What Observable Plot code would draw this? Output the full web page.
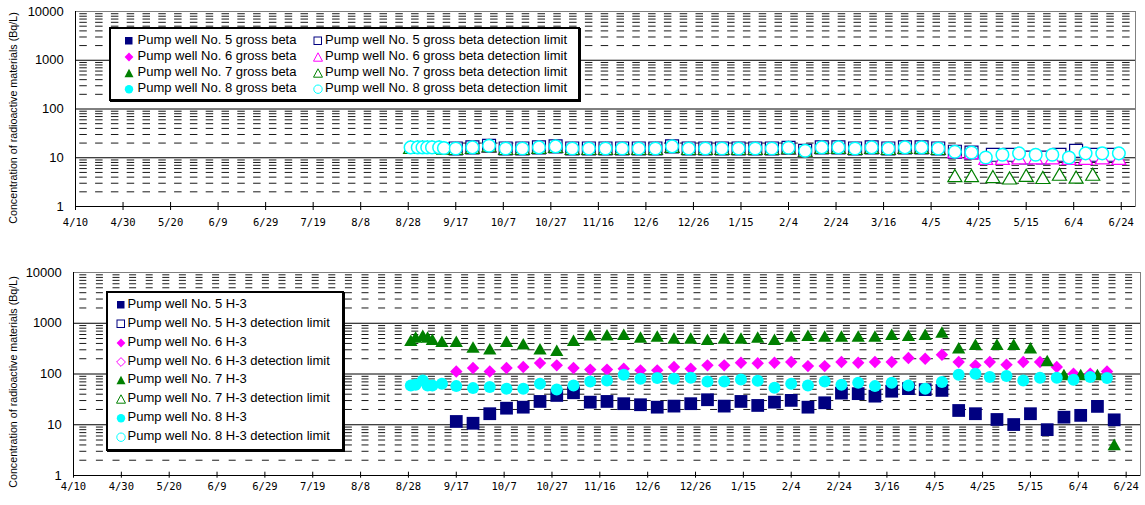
<!DOCTYPE html>
<html><head><meta charset="utf-8">
<script src="https://cdn.jsdelivr.net/npm/d3@7"></script>
<script src="https://cdn.jsdelivr.net/npm/@observablehq/plot@0.6"></script>
<style>
body{margin:0;background:#fff;}
#wrap{position:relative;width:1145px;height:505px;overflow:hidden;font-family:"Liberation Sans",Arial,sans-serif;color:#000;}
.panel{position:absolute;left:0;}
.ylab{position:absolute;font-size:10.7px;white-space:nowrap;transform:translate(-50%,-50%) rotate(-90deg);}
.legend{position:absolute;border:2px solid #000;box-shadow:1px 1px 0 #000;background:#fff;box-sizing:border-box;}
.ltext{position:absolute;font-size:13px;line-height:16px;height:16px;white-space:nowrap;}
.lsym{position:absolute;}
</style></head>
<body><div id="wrap"></div>
<script>
// ---------- data ----------
const clusterTop = ["2012-08-29","2012-09-01","2012-09-03","2012-09-05","2012-09-07","2012-09-10","2012-09-12"];
const clusterBottom = ["2012-08-29","2012-08-31","2012-09-03","2012-09-05","2012-09-07","2012-09-11"];
const weekly = ["2012-09-17","2012-09-24","2012-10-01","2012-10-08","2012-10-15","2012-10-22","2012-10-29","2012-11-05","2012-11-12","2012-11-19","2012-11-26","2012-12-03","2012-12-10","2012-12-17","2012-12-24","2012-12-31","2013-01-07","2013-01-14","2013-01-21","2013-01-28","2013-02-04","2013-02-11","2013-02-18","2013-02-25","2013-03-04","2013-03-11","2013-03-18","2013-03-25","2013-04-01","2013-04-08","2013-04-15","2013-04-22"];
const laterA = ["2013-05-01","2013-05-08","2013-05-15","2013-05-22","2013-05-29","2013-06-05","2013-06-12","2013-06-19"];
const laterB = ["2013-04-28","2013-05-05","2013-05-12","2013-05-19","2013-05-26","2013-06-02","2013-06-09","2013-06-16","2013-06-23"];

// gross beta (all results were below detection limit: only detection limits plotted)
const beta5 = [], beta6 = [], beta7 = [], beta8 = [];
const beta5DLDates = [...weekly, ...laterA];
const beta5DL = [15.5,16.3,17.6,15.5,15.5,16.3,17.1,15.5,15.5,15.5,15.5,15.5,15.5,17.1,15.5,15.5,15.5,15.5,15.5,15.5,16.0,13.9,16.3,16.3,15.5,16.3,15.5,16.3,16.3,15.5,13.3,12.8,
  11.5,11.5,10.1,10.1,11.5,13.9,11.5,11.5];
const beta6DLDates = [...weekly, ...laterB];
const beta6DL = [15.5,16.3,17.6,15.5,15.5,16.3,17.1,15.5,15.5,15.5,15.5,15.5,15.5,17.1,15.5,15.5,15.5,15.5,15.5,15.5,16.0,13.9,16.3,16.3,15.5,16.3,15.5,16.3,16.3,15.5,13.3,12.8,
  9.7,9.7,10,10,10,9.7,9.7,10,9.7];
const beta7DLDates = [...clusterTop, ...weekly, ...laterA.slice(0,7)];
const beta7DL = [16.3,16.3,16.3,16.3,16.3,16.3,15.8,
  15.5,16.3,17.6,15.5,15.5,16.3,17.1,15.5,15.5,15.5,15.5,15.5,15.5,17.1,15.5,15.5,15.5,15.5,15.5,15.5,16.0,13.9,16.3,16.3,15.5,16.3,15.5,16.3,16.3,15.5,4.3,4.3,
  4.1,3.85,4.37,3.94,4.6,4.0,4.6];
const beta8DLDates = [...clusterTop, ...weekly, ...laterB];
const beta8DL = [16.3,16.3,16.3,16.3,16.3,16.3,15.8,
  15.5,16.3,17.6,15.5,15.5,16.3,17.1,15.5,15.5,15.5,15.5,15.5,15.5,17.1,15.5,15.5,15.5,15.5,15.5,15.5,16.0,13.9,16.3,16.3,15.5,16.3,15.5,16.3,16.3,15.5,13.3,12.8,
  10.1,11.5,12.3,11.5,11.5,10.1,12.3,12.3,12.3];

// H-3 (all results above detection limit)
const h5Dates = [...weekly, ...laterA];
const h5 = [11.6,10.7,16.5,21.2,22.2,28.8,37.8,42.7,27.9,28.8,26,24.8,22.2,23.3,26,31.1,23.3,28.8,24,27.9,30.2,22.2,27.1,42,41,36.6,45.8,51.5,49.2,47.5,19.1,16.5,
  12.7,10.1,16.5,8.0,14.1,15.3,23,12.5];
const h6Dates = [...weekly, ...laterB.slice(0,8)];
const h6 = [112,131,112,131,137,164,148,131,122,122,127,118,118,137,127,148,148,167,163,167,172,143,143,172,167,172,172,206,200,240,172,148,
  172,153,172,172,137,101,101,112];
const h7Dates = [...clusterBottom, ...weekly, ...laterA];
const h7 = [460,534,577,534,481,440,
  440,340,315,440,396,315,292,460,596,596,604,534,560,511,511,481,511,511,534,481,559,577,559,559,559,559,604,577,604,670,330,384,
  384,384,330,185,98,98,98,4.1];
const h8Dates = [...clusterBottom, ...weekly, ...laterB.slice(0,8)];
const h8 = [59.6,61.5,74.8,59.6,59.6,64.4,
  57.7,52.7,55.2,51.3,51.3,64.4,49.7,59.6,71.4,74.8,96.9,80.7,83,80.7,84.6,71.4,71.4,78.2,73.5,53.7,64.4,59.6,71.4,61.5,67.3,57.7,67.3,59.6,51.3,69.2,96.9,101,
  86.9,90.9,74.8,84.6,84.6,77.2,86.9,83];
const h5DL = [], h6DL = [], h7DL = [], h8DL = [];

const yTickValues = [1, 10, 100, 1000, 10000];
const yAxisTitle = "Concentration of radioactive materials (Bq/L)";
const topLegendLabels = ["Pump well No. 5 gross beta","Pump well No. 5 gross beta detection limit","Pump well No. 6 gross beta","Pump well No. 6 gross beta detection limit","Pump well No. 7 gross beta","Pump well No. 7 gross beta detection limit","Pump well No. 8 gross beta","Pump well No. 8 gross beta detection limit"];
const bottomLegendLabels = ["Pump well No. 5 H-3","Pump well No. 5 H-3 detection limit","Pump well No. 6 H-3","Pump well No. 6 H-3 detection limit","Pump well No. 7 H-3","Pump well No. 7 H-3 detection limit","Pump well No. 8 H-3","Pump well No. 8 H-3 detection limit"];

// ---------- setup ----------
const NAVY = "#000080", MAG = "#FF00FF", GRN = "#008000", CYN = "#00FFFF";
const xStart = new Date("2012-04-10"), xEnd = new Date("2013-06-30");
const xTicks = d3.range(23).map(i => d3.utcDay.offset(xStart, 20 * i));
const minor = [1, 10, 100, 1000].flatMap(d => d3.range(2, 10).map(k => k * d));
const rows = (dates, vals) => vals.map((v, i) => ({date: new Date(dates[i]), v}));

function panel(cfg) {
  const px = cfg.decadePx;
  return Plot.plot({
    width: 1145, height: cfg.height,
    marginTop: cfg.mt, marginBottom: cfg.mb, marginLeft: cfg.ml, marginRight: cfg.mr,
    x: {type: "utc", domain: [xStart, xEnd]},
    y: {type: "log", domain: [1, 10000]},
    style: {fontFamily: '"Liberation Sans", Arial, sans-serif', background: "white", color: "#000"},
    marks: [
      Plot.ruleY(minor, {stroke: "#1a1a1a", strokeDasharray: cfg.dash, strokeDashoffset: cfg.dashOffset}),
      Plot.ruleY([10, 100, 1000], {stroke: "#000"}),
      Plot.frame({stroke: "#808080"}),
      Plot.ruleX([xStart], {stroke: "#000"}),
      Plot.ruleY([1], {stroke: "#000"}),
      Plot.ruleX(xTicks, {y1: 10 ** (-cfg.tickDown / px), y2: 10 ** (cfg.tickUp / px), stroke: "#000"}),
      Plot.axisX({ticks: xTicks, tickFormat: d3.utcFormat("%-m/%-d"), tickSize: 0, tickPadding: cfg.xPad,
        fontFamily: '"DejaVu Sans Mono", monospace', fontSize: 10.5, label: null}),
      Plot.axisY({ticks: yTickValues, tickFormat: d => String(d), tickSize: 0, tickPadding: 11.7, fontSize: 13, label: null}),
      ...cfg.series.map(s => Plot.dot(s.data, {x: "date", y: "v", symbol: s.symbol, r: s.r,
        fill: s.fill, stroke: s.stroke, strokeWidth: s.sw || 1, dy: s.dy || 0}))
    ]
  });
}

const wrap = document.getElementById("wrap");

const topSeries = [
  {data: rows(weekly, beta5), symbol: "square", r: 7.3, fill: NAVY, stroke: "none"},
  {data: rows(beta5DLDates, beta5DL), symbol: "square", r: 7.3, fill: "white", stroke: NAVY, sw: 1.2},
  {data: rows(weekly, beta6), symbol: "diamond2", r: 5.8, fill: MAG, stroke: "none"},
  {data: rows(beta6DLDates, beta6DL), symbol: "triangle2", r: 6.7, fill: "white", stroke: MAG, sw: 1.2, dy: 2},
  {data: rows(weekly, beta7), symbol: "triangle2", r: 6.7, fill: GRN, stroke: "none", dy: 2},
  {data: rows(beta7DLDates, beta7DL), symbol: "triangle2", r: 6.7, fill: "white", stroke: GRN, sw: 1.2, dy: 2},
  {data: rows(weekly, beta8), symbol: "circle", r: 6.3, fill: CYN, stroke: "none"},
  {data: rows(beta8DLDates, beta8DL), symbol: "circle", r: 6.3, fill: "white", stroke: CYN, sw: 1.5}
];
const bottomSeries = [
  {data: rows(h5Dates, h5), symbol: "square", r: 7.2, fill: NAVY, stroke: "none"},
  {data: rows(weekly, h5DL), symbol: "square", r: 7.2, fill: "white", stroke: NAVY},
  {data: rows(h6Dates, h6), symbol: "diamond2", r: 5.6, fill: MAG, stroke: "none"},
  {data: rows(weekly, h6DL), symbol: "diamond2", r: 5.6, fill: "white", stroke: MAG},
  {data: rows(h7Dates, h7), symbol: "triangle2", r: 6.35, fill: GRN, stroke: "none", dy: 1.9},
  {data: rows(weekly, h7DL), symbol: "triangle2", r: 6.35, fill: "white", stroke: GRN, dy: 1.9},
  {data: rows(h8Dates, h8), symbol: "circle", r: 6, fill: CYN, stroke: "none"},
  {data: rows(weekly, h8DL), symbol: "circle", r: 6, fill: "white", stroke: CYN}
];

const topPlot = panel({height: 250, mt: 11, mb: 44, ml: 75, mr: 10, decadePx: 48.7, tickUp: 4, tickDown: 4,
  xPad: 12.5, dash: "7.5,8.3", dashOffset: 11.5, series: topSeries});
topPlot.classList.add("panel"); topPlot.style.top = "0px";
wrap.appendChild(topPlot);

const bottomPlot = panel({height: 255, mt: 22, mb: 30, ml: 73, mr: 5, decadePx: 50.7, tickUp: 3.3, tickDown: 2.7,
  xPad: 7.5, dash: "7,9.6", dashOffset: 10.3, series: bottomSeries});
bottomPlot.classList.add("panel"); bottomPlot.style.top = "250px";
wrap.appendChild(bottomPlot);

// y axis titles
for (const cy of [117.5, 381.5]) {
  const t = document.createElement("div");
  t.className = "ylab"; t.textContent = yAxisTitle;
  t.style.left = "12.5px"; t.style.top = cy + "px";
  wrap.appendChild(t);
}

// legends
const bottomShapes = [
  {shape: "sq", color: NAVY, filled: true}, {shape: "sq", color: NAVY, filled: false},
  {shape: "di", color: MAG, filled: true}, {shape: "di", color: MAG, filled: false},
  {shape: "tr", color: GRN, filled: true}, {shape: "tr", color: GRN, filled: false},
  {shape: "ci", color: CYN, filled: true}, {shape: "ci", color: CYN, filled: false}
];
const topShapes = bottomShapes.map((s, i) => i === 3 ? {shape: "tr", color: MAG, filled: false} : s);
function symbolSvg(spec) {
  const ns = "http://www.w3.org/2000/svg";
  const svg = document.createElementNS(ns, "svg");
  svg.setAttribute("width", 10); svg.setAttribute("height", 10);
  let el;
  if (spec.shape === "sq") { el = document.createElementNS(ns, "rect"); el.setAttribute("x", 1); el.setAttribute("y", 1); el.setAttribute("width", 7.5); el.setAttribute("height", 7.5); }
  else if (spec.shape === "di") { el = document.createElementNS(ns, "polygon"); el.setAttribute("points", "5,0.6 9.4,5 5,9.4 0.6,5"); }
  else if (spec.shape === "tr") { el = document.createElementNS(ns, "polygon"); el.setAttribute("points", "5,0.8 9.5,9.2 0.5,9.2"); }
  else { el = document.createElementNS(ns, "circle"); el.setAttribute("cx", 5); el.setAttribute("cy", 5.2); el.setAttribute("r", 4.2); }
  el.setAttribute("fill", spec.filled ? spec.color : "white");
  el.setAttribute("stroke", spec.filled ? "none" : spec.color);
  el.setAttribute("stroke-width", 1);
  svg.appendChild(el);
  return svg;
}
function addLegend(box, items) {
  const b = document.createElement("div");
  b.className = "legend";
  Object.assign(b.style, {left: box.x + "px", top: box.y + "px", width: box.w + "px", height: box.h + "px"});
  wrap.appendChild(b);
  for (const it of items) {
    const s = symbolSvg(it.spec);
    s.classList.add("lsym");
    s.style.left = (it.sx - 5) + "px"; s.style.top = (it.cy - 4) + "px";
    wrap.appendChild(s);
    const t = document.createElement("div");
    t.className = "ltext"; t.textContent = it.label;
    t.style.left = it.tx + "px"; t.style.top = (it.cy - 8) + "px";
    wrap.appendChild(t);
  }
}
addLegend({x: 109, y: 27, w: 471, h: 74}, topLegendLabels.map((label, i) => {
  const col = i % 2, row = Math.floor(i / 2);
  return {label, spec: topShapes[i], sx: col ? 318 : 129, tx: col ? 325 : 137.5, cy: 40 + row * 15.9};
}));
addLegend({x: 106, y: 291, w: 238, h: 160}, bottomLegendLabels.map((label, i) => ({
  label, spec: bottomShapes[i], sx: 121, tx: 127.5, cy: 304.2 + i * 18.8
})));
</script></body></html>
